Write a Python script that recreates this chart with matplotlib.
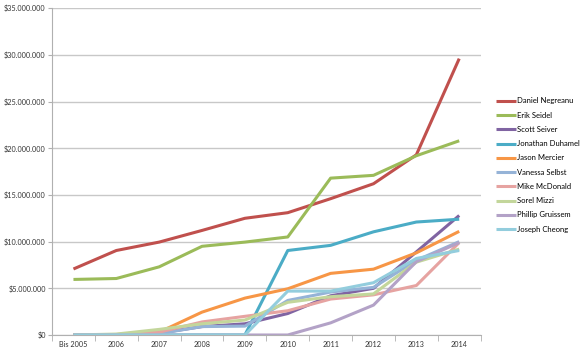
import matplotlib.pyplot as plt
from matplotlib.ticker import FuncFormatter

years = ['Bis 2005', '2006', '2007', '2008', '2009', '2010', '2011', '2012', '2013', '2014']

names = ['Daniel Negreanu', 'Erik Seidel', 'Scott Seiver', 'Jonathan Duhamel', 'Jason Mercier',
         'Vanessa Selbst', 'Mike McDonald', 'Sorel Mizzi', 'Phillip Gruissem', 'Joseph Cheong']

negreanu = [7.07, 9.05, 9.95, 11.2, 12.5, 13.1, 14.6, 16.2, 19.3, 29.6]
seidel = [5.95, 6.05, 7.3, 9.5, 9.95, 10.5, 16.8, 17.1, 19.2, 20.8]
seiver = [0, 0.02, 0.2, 0.9, 1.2, 2.3, 4.2, 5.0, 8.9, 12.8]
duhamel = [0, 0, 0, 0, 0, 9.05, 9.6, 11.05, 12.1, 12.4]
mercier = [0, 0.05, 0.3, 2.45, 3.95, 4.95, 6.6, 7.05, 8.8, 11.1]
selbst = [0, 0.02, 0.15, 0.9, 0.95, 3.7, 4.6, 5.1, 8.0, 10.0]
mcdonald = [0, 0.02, 0.3, 1.4, 2.0, 2.6, 3.85, 4.3, 5.3, 9.9]
mizzi = [0, 0.1, 0.6, 1.2, 1.6, 3.5, 4.1, 4.4, 7.8, 9.2]
gruissem = [0, 0, 0, 0, 0, 0, 1.3, 3.2, 7.85, 9.9]
cheong = [0, 0, 0, 0, 0, 4.7, 4.7, 5.6, 8.2, 9.05]

series = [negreanu, seidel, seiver, duhamel, mercier, selbst, mcdonald, mizzi, gruissem, cheong]
colors = ['#C0504D', '#9BBB59', '#8064A2', '#4BACC6', '#F79646',
          '#95B3D7', '#E6A3A1', '#C3D69B', '#B3A2C7', '#93CDDD']

plt.rcParams['font.family'] = ['Lato', 'DejaVu Sans']

fig = plt.figure(figsize=(5.8, 3.51), dpi=100)
ax = fig.add_axes([0.0897, 0.0456, 0.739, 0.931])

x = list(range(len(years)))
for vals, name, c in zip(series, names, colors):
    ax.plot(x, [v * 1e6 for v in vals], color=c, lw=2.2, label=name, solid_capstyle='butt')

ax.set_xlim(-0.5, len(years) - 0.5)
ax.set_ylim(0, 35e6)
ax.set_yticks([i * 5e6 for i in range(8)])
ax.yaxis.set_major_formatter(FuncFormatter(lambda v, p: '$' + format(int(v), ',').replace(',', '.')))
ax.set_xticks(x)
ax.set_xticklabels(years)
ax.set_xticks([i - 0.5 for i in range(len(years) + 1)], minor=True)

ax.grid(axis='y', color='#C8C8C8', lw=1)
ax.set_axisbelow(True)
for s in ['top', 'right']:
    ax.spines[s].set_visible(False)
for s in ['left', 'bottom']:
    ax.spines[s].set_color('#B0B0B0')
ax.tick_params(axis='both', which='major', labelsize=5.2, colors='#333333', length=0, pad=4)
ax.tick_params(axis='x', which='minor', length=4, color='#B0B0B0')
ax.tick_params(axis='y', which='major', length=3, color='#B0B0B0', direction='out', pad=1.5)

ax.legend(loc='center left', bbox_to_anchor=(1.02, 0.52), frameon=False, fontsize=5.5,
          handlelength=2.6, labelspacing=0.95, handletextpad=0.1)

plt.savefig('out.png', dpi=100)
